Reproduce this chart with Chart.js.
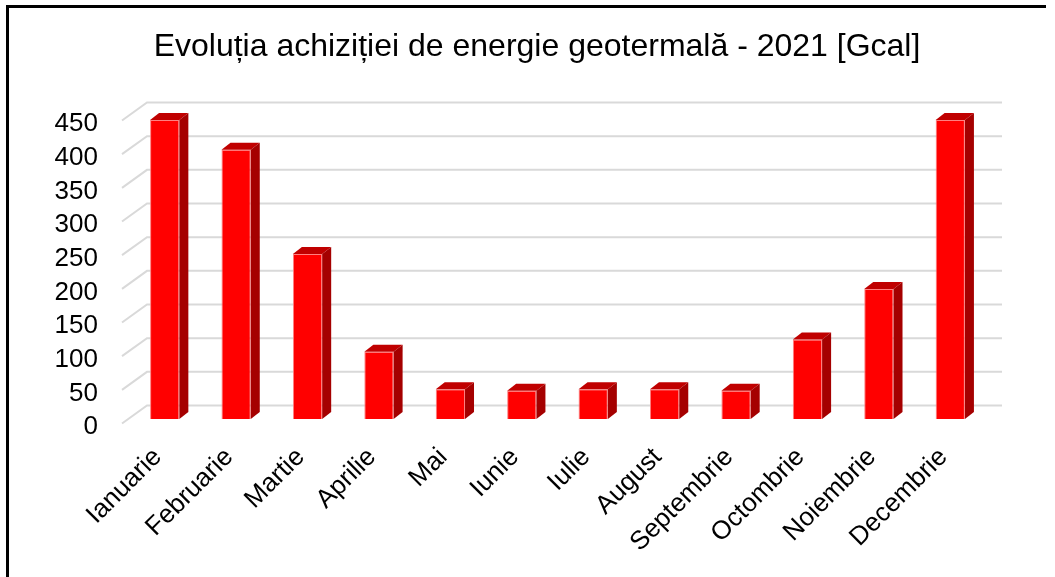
<!DOCTYPE html>
<html>
<head>
<meta charset="utf-8">
<script src="https://cdn.jsdelivr.net/npm/chart.js@4"></script>
<style>
  html, body { margin: 0; padding: 0; background: #fff; }
  #wrap { position: relative; width: 1055px; height: 577px; }
  #frame { position: absolute; left: 6px; top: 5px; right: 9px; bottom: -10px;
           border-left: 3px solid #000; border-top: 3px solid #000; }
  canvas { position: absolute; left: 0; top: 0; }
</style>
</head>
<body>
<div id="wrap">
  <canvas id="chart" width="1055" height="577"></canvas>
  <div id="frame"></div>
</div>
<script>
// ---- data ----
const title  = "Evoluția achiziției de energie geotermală - 2021 [Gcal]";
const months = ["Ianuarie", "Februarie", "Martie", "Aprilie", "Mai", "Iunie",
                "Iulie", "August", "Septembrie", "Octombrie", "Noiembrie", "Decembrie"];
const gcal   = [444, 400, 245, 100, 44, 42, 44, 44, 42, 118, 193, 444];
const yTicks = [0, 50, 100, 150, 200, 250, 300, 350, 400, 450];

const FONT = "'Liberation Sans', Arial, sans-serif";
const DX = 9, DY = 7;          // bar depth
const GX = 25, GY = 18;        // wall depth

// chart title, centred like the original (over the plot, not the canvas)
const titlePlugin = {
  id: "titleText",
  afterDraw(chart) {
    const { ctx } = chart;
    ctx.save();
    ctx.font = "32px " + FONT;
    ctx.fillStyle = "#000";
    ctx.textAlign = "center";
    ctx.textBaseline = "alphabetic";
    ctx.fillText(title, 537, 56);
    ctx.restore();
  }
};

// back wall gridlines + floor diagonals
const wallGrid = {
  id: "wallGrid",
  beforeDatasetsDraw(chart) {
    const { ctx, chartArea: a, scales: { y } } = chart;
    ctx.save();
    ctx.strokeStyle = "#d9d9d9";
    ctx.lineWidth = 2;
    yTicks.forEach(v => {
      const front = y.getPixelForValue(v) + 4.5, back = front - GY;
      ctx.beginPath();
      ctx.moveTo(a.left - 7, front);
      ctx.lineTo(a.left - 7 + GX, back);
      ctx.lineTo(a.right + 16, back);
      ctx.stroke();
    });
    ctx.restore();
  }
};

// top and side faces of each column
const columns3d = {
  id: "columns3d",
  afterDatasetsDraw(chart) {
    const { ctx } = chart;
    chart.getDatasetMeta(0).data.forEach(bar => {
      const l = bar.x - bar.width / 2, r = bar.x + bar.width / 2;
      const t = bar.y, b = bar.base;
      ctx.save();
      ctx.fillStyle = "#c00000";
      ctx.beginPath();
      ctx.moveTo(l, t); ctx.lineTo(r, t);
      ctx.lineTo(r + DX, t - DY); ctx.lineTo(l + DX, t - DY);
      ctx.closePath(); ctx.fill();
      ctx.fillStyle = "#a50000";
      ctx.beginPath();
      ctx.moveTo(r, t); ctx.lineTo(r + DX, t - DY);
      ctx.lineTo(r + DX, b - DY); ctx.lineTo(r, b);
      ctx.closePath(); ctx.fill();
      ctx.restore();
    });
  }
};

new Chart(document.getElementById("chart"), {
  type: "bar",
  data: {
    labels: months,
    datasets: [{
      data: gcal,
      backgroundColor: "#ff0000",
      borderColor: "#ff8080",
      borderWidth: 1,
      categoryPercentage: 1,
      barPercentage: 0.41
    }]
  },
  options: {
    responsive: false,
    animation: false,
    layout: { padding: { left: 10, right: 69, top: 116, bottom: 0 } },
    plugins: {
      legend: { display: false },
      tooltip: { enabled: false },
      title: { display: false }
    },
    scales: {
      y: {
        min: 0, max: 450,
        border: { display: false },
        grid: { display: false, drawTicks: false },
        afterFit: s => { s.width = 119; },
        afterBuildTicks: s => { s.ticks = yTicks.map(v => ({ value: v })); },
        ticks: {
          color: "#000",
          padding: 31,
          labelOffset: 8,
          autoSkip: false,
          font: { family: FONT, size: 26 }
        }
      },
      x: {
        border: { display: false },
        grid: { display: false, drawTicks: false },
        afterFit: s => { s.height = 158; },
        ticks: {
          color: "#000",
          minRotation: 45, maxRotation: 45,
          padding: 23,
          labelOffset: -7,
          autoSkip: false,
          font: { family: FONT, size: 26 }
        }
      }
    }
  },
  plugins: [wallGrid, columns3d, titlePlugin]
});
</script>
</body>
</html>
